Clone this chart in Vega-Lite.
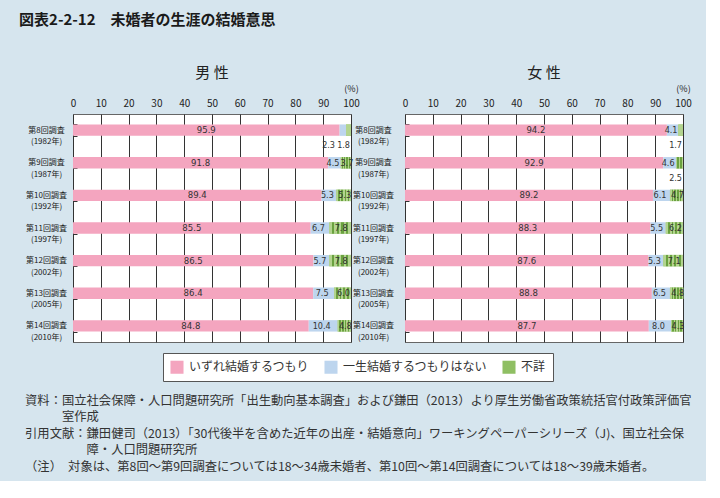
{
  "$schema": "https://vega.github.io/schema/vega-lite/v6.json",
  "background": "#d6e5ee",
  "padding": {"left": 19, "right": 14, "top": 12, "bottom": 8},
  "title": {
    "text": "図表2-2-12　未婚者の生涯の結婚意思",
    "anchor": "start",
    "fontSize": 15,
    "fontWeight": "bold",
    "color": "#1a1a1a",
    "offset": 38,
    "dx": -6
  },
  "data": {
    "values": [
      {"panel": "男性", "survey": "第8回調査|(1982年)", "cat": "いずれ結婚するつもり", "ord": 1, "v": 95.9},
      {"panel": "男性", "survey": "第8回調査|(1982年)", "cat": "一生結婚するつもりはない", "ord": 2, "v": 2.3},
      {"panel": "男性", "survey": "第8回調査|(1982年)", "cat": "不詳", "ord": 3, "v": 1.8},
      {"panel": "男性", "survey": "第9回調査|(1987年)", "cat": "いずれ結婚するつもり", "ord": 1, "v": 91.8},
      {"panel": "男性", "survey": "第9回調査|(1987年)", "cat": "一生結婚するつもりはない", "ord": 2, "v": 4.5},
      {"panel": "男性", "survey": "第9回調査|(1987年)", "cat": "不詳", "ord": 3, "v": 3.7},
      {"panel": "男性", "survey": "第10回調査|(1992年)", "cat": "いずれ結婚するつもり", "ord": 1, "v": 89.4},
      {"panel": "男性", "survey": "第10回調査|(1992年)", "cat": "一生結婚するつもりはない", "ord": 2, "v": 5.3},
      {"panel": "男性", "survey": "第10回調査|(1992年)", "cat": "不詳", "ord": 3, "v": 5.3},
      {"panel": "男性", "survey": "第11回調査|(1997年)", "cat": "いずれ結婚するつもり", "ord": 1, "v": 85.5},
      {"panel": "男性", "survey": "第11回調査|(1997年)", "cat": "一生結婚するつもりはない", "ord": 2, "v": 6.7},
      {"panel": "男性", "survey": "第11回調査|(1997年)", "cat": "不詳", "ord": 3, "v": 7.8},
      {"panel": "男性", "survey": "第12回調査|(2002年)", "cat": "いずれ結婚するつもり", "ord": 1, "v": 86.5},
      {"panel": "男性", "survey": "第12回調査|(2002年)", "cat": "一生結婚するつもりはない", "ord": 2, "v": 5.7},
      {"panel": "男性", "survey": "第12回調査|(2002年)", "cat": "不詳", "ord": 3, "v": 7.8},
      {"panel": "男性", "survey": "第13回調査|(2005年)", "cat": "いずれ結婚するつもり", "ord": 1, "v": 86.4},
      {"panel": "男性", "survey": "第13回調査|(2005年)", "cat": "一生結婚するつもりはない", "ord": 2, "v": 7.5},
      {"panel": "男性", "survey": "第13回調査|(2005年)", "cat": "不詳", "ord": 3, "v": 6.0},
      {"panel": "男性", "survey": "第14回調査|(2010年)", "cat": "いずれ結婚するつもり", "ord": 1, "v": 84.8},
      {"panel": "男性", "survey": "第14回調査|(2010年)", "cat": "一生結婚するつもりはない", "ord": 2, "v": 10.4},
      {"panel": "男性", "survey": "第14回調査|(2010年)", "cat": "不詳", "ord": 3, "v": 4.8},
      {"panel": "女性", "survey": "第8回調査|(1982年)", "cat": "いずれ結婚するつもり", "ord": 1, "v": 94.2},
      {"panel": "女性", "survey": "第8回調査|(1982年)", "cat": "一生結婚するつもりはない", "ord": 2, "v": 4.1},
      {"panel": "女性", "survey": "第8回調査|(1982年)", "cat": "不詳", "ord": 3, "v": 1.7},
      {"panel": "女性", "survey": "第9回調査|(1987年)", "cat": "いずれ結婚するつもり", "ord": 1, "v": 92.9},
      {"panel": "女性", "survey": "第9回調査|(1987年)", "cat": "一生結婚するつもりはない", "ord": 2, "v": 4.6},
      {"panel": "女性", "survey": "第9回調査|(1987年)", "cat": "不詳", "ord": 3, "v": 2.5},
      {"panel": "女性", "survey": "第10回調査|(1992年)", "cat": "いずれ結婚するつもり", "ord": 1, "v": 89.2},
      {"panel": "女性", "survey": "第10回調査|(1992年)", "cat": "一生結婚するつもりはない", "ord": 2, "v": 6.1},
      {"panel": "女性", "survey": "第10回調査|(1992年)", "cat": "不詳", "ord": 3, "v": 4.7},
      {"panel": "女性", "survey": "第11回調査|(1997年)", "cat": "いずれ結婚するつもり", "ord": 1, "v": 88.3},
      {"panel": "女性", "survey": "第11回調査|(1997年)", "cat": "一生結婚するつもりはない", "ord": 2, "v": 5.5},
      {"panel": "女性", "survey": "第11回調査|(1997年)", "cat": "不詳", "ord": 3, "v": 6.2},
      {"panel": "女性", "survey": "第12回調査|(2002年)", "cat": "いずれ結婚するつもり", "ord": 1, "v": 87.6},
      {"panel": "女性", "survey": "第12回調査|(2002年)", "cat": "一生結婚するつもりはない", "ord": 2, "v": 5.3},
      {"panel": "女性", "survey": "第12回調査|(2002年)", "cat": "不詳", "ord": 3, "v": 7.1},
      {"panel": "女性", "survey": "第13回調査|(2005年)", "cat": "いずれ結婚するつもり", "ord": 1, "v": 88.8},
      {"panel": "女性", "survey": "第13回調査|(2005年)", "cat": "一生結婚するつもりはない", "ord": 2, "v": 6.5},
      {"panel": "女性", "survey": "第13回調査|(2005年)", "cat": "不詳", "ord": 3, "v": 4.8},
      {"panel": "女性", "survey": "第14回調査|(2010年)", "cat": "いずれ結婚するつもり", "ord": 1, "v": 87.7},
      {"panel": "女性", "survey": "第14回調査|(2010年)", "cat": "一生結婚するつもりはない", "ord": 2, "v": 8.0},
      {"panel": "女性", "survey": "第14回調査|(2010年)", "cat": "不詳", "ord": 3, "v": 4.3}
    ]
  },
  "resolve": {"legend": {"color": "independent"}},
  "vconcat": [
    {
      "title": {
        "text": [
          "資料：国立社会保障・人口問題研究所「出生動向基本調査」および鎌田（2013）より厚生労働省政策統括官付政策評価官",
          "\u200b　　　室作成",
          "引用文献：鎌田健司（2013）「30代後半を含めた近年の出産・結婚意向」ワーキングペーパーシリーズ（J)、国立社会保",
          "\u200b　　　　　障・人口問題研究所",
          "（注）　対象は、第8回～第9回調査については18～34歳未婚者、第10回～第14回調査については18～39歳未婚者。"
        ],
        "orient": "bottom",
        "anchor": "start",
        "fontSize": 12.3,
        "fontWeight": "normal",
        "lineHeight": 16.5,
        "color": "#333333",
        "offset": 13
      },
      "spacing": -8,
      "hconcat": [
        {
          "width": 278,
          "height": 228,
          "title": {"text": "男 性", "fontSize": 15, "fontWeight": "normal", "color": "#222222", "offset": 3},
          "transform": [
            {"filter": "datum.panel === '男性'"},
            {"stack": "v", "groupby": ["survey"], "sort": [{"field": "ord"}], "as": ["v0", "v1"]},
            {"calculate": "(datum.v0 + datum.v1) / 2", "as": "mid"}
          ],
          "encoding": {
            "y": {
              "field": "survey", "type": "nominal", "sort": null,
              "scale": {"paddingInner": 0.65, "paddingOuter": 0.32},
              "axis": {
                "title": null, "domain": false, "ticks": true, "tickBand": "extent", "tickSize": -4, "tickColor": "#333333",
                "labelAlign": "center", "labelPadding": 31, "labelFontSize": 8, "labelLineHeight": 11.5,
                "labelColor": "#1a1a1a", "labelExpr": "split(datum.label, '|')"
              }
            }
          },
          "layer": [
            {
              "mark": {"type": "bar"},
              "encoding": {
                "x": {
                  "field": "v0", "type": "quantitative", "scale": {"domain": [0, 100]},
                  "axis": {"orient": "top", "values": [0, 10, 20, 30, 40, 50, 60, 70, 80, 90, 100], "tickCount": 11, "labelOverlap": false, "labelFlush": false, "grid": true, "gridColor": "#333333", "gridOpacity": 1, "domain": false, "ticks": false, "labelFontSize": 10, "labelColor": "#222222", "labelPadding": 6, "title": "(%)", "titleAnchor": "end", "titleAlign": "center", "titleFontSize": 9, "titleFontWeight": "normal", "titleColor": "#222222", "titlePadding": 5}
                },
                "x2": {"field": "v1"},
                "color": {
                  "field": "cat", "type": "nominal",
                  "scale": {
                    "domain": ["いずれ結婚するつもり", "一生結婚するつもりはない", "不詳"],
                    "range": ["#f4a5bf", "#bdd5ee", "#8fbf63"]
                  },
                  "legend": {
                    "title": null, "orient": "bottom", "direction": "horizontal", "symbolType": "square",
                    "symbolSize": 170, "symbolStrokeWidth": 0, "labelFontSize": 12, "labelColor": "#333333",
                    "fillColor": "#ffffff", "strokeColor": "#555555", "padding": 7, "columnPadding": 14,
                    "labelOffset": 5, "offset": 10, "labelLimit": 300,
                    "encode": {
                      "symbols": {
                        "update": {
                          "fill": [
                            {"test": "datum.label === '不詳'", "value": {"gradient": "linear", "x1": 0, "y1": 0, "x2": 1, "y2": 0, "stops": [
                              {"offset": 0, "color": "#b3d48f"}, {"offset": 0.1, "color": "#b3d48f"},
                              {"offset": 0.1, "color": "#5f9a35"}, {"offset": 0.22, "color": "#5f9a35"},
                              {"offset": 0.22, "color": "#b3d48f"}, {"offset": 0.34, "color": "#b3d48f"},
                              {"offset": 0.34, "color": "#5f9a35"}, {"offset": 0.46, "color": "#5f9a35"},
                              {"offset": 0.46, "color": "#b3d48f"}, {"offset": 0.56, "color": "#b3d48f"},
                              {"offset": 0.56, "color": "#5f9a35"}, {"offset": 0.68, "color": "#5f9a35"},
                              {"offset": 0.68, "color": "#b3d48f"}, {"offset": 0.78, "color": "#b3d48f"},
                              {"offset": 0.78, "color": "#5f9a35"}, {"offset": 0.9, "color": "#5f9a35"},
                              {"offset": 0.9, "color": "#b3d48f"}, {"offset": 1, "color": "#b3d48f"}
                            ]}},
                            {"scale": "color", "field": "value"}
                          ]
                        }
                      }
                    }
                  }
                }
              }
            },
            {
              "transform": [{"filter": "datum.ord === 3"}],
              "mark": {"type": "bar", "fill": {"gradient": "linear", "x1": 0, "y1": 0, "x2": 1, "y2": 0, "stops": [
                {"offset": 0, "color": "#b3d48f"}, {"offset": 0.12, "color": "#b3d48f"},
                {"offset": 0.12, "color": "#6aa23f"}, {"offset": 0.22, "color": "#6aa23f"},
                {"offset": 0.22, "color": "#b3d48f"}, {"offset": 0.34, "color": "#b3d48f"},
                {"offset": 0.34, "color": "#6aa23f"}, {"offset": 0.44, "color": "#6aa23f"},
                {"offset": 0.44, "color": "#b3d48f"}, {"offset": 0.56, "color": "#b3d48f"},
                {"offset": 0.56, "color": "#6aa23f"}, {"offset": 0.66, "color": "#6aa23f"},
                {"offset": 0.66, "color": "#b3d48f"}, {"offset": 0.78, "color": "#b3d48f"},
                {"offset": 0.78, "color": "#6aa23f"}, {"offset": 0.88, "color": "#6aa23f"},
                {"offset": 0.88, "color": "#b3d48f"}, {"offset": 1, "color": "#b3d48f"}
              ]}},
              "encoding": {
                "x": {"field": "v0", "type": "quantitative", "axis": {"orient": "top", "values": [0, 10, 20, 30, 40, 50, 60, 70, 80, 90, 100], "tickCount": 11, "labelOverlap": false, "labelFlush": false, "grid": true, "gridColor": "#333333", "gridOpacity": 1, "domain": false, "ticks": false, "labelFontSize": 10, "labelColor": "#222222", "labelPadding": 6, "title": "(%)", "titleAnchor": "end", "titleAlign": "center", "titleFontSize": 9, "titleFontWeight": "normal", "titleColor": "#222222", "titlePadding": 5}},
                "x2": {"field": "v1"}
              }
            },
            {
              "transform": [{"filter": "datum.ord === 1"}],
              "mark": {"type": "text", "fontSize": 9.5, "font": "Liberation Sans Narrow, DejaVu Sans Condensed, Roboto", "color": "#333333"},
              "encoding": {
                "x": {"field": "mid", "type": "quantitative", "axis": {"orient": "top", "values": [0, 10, 20, 30, 40, 50, 60, 70, 80, 90, 100], "tickCount": 11, "labelOverlap": false, "labelFlush": false, "grid": true, "gridColor": "#333333", "gridOpacity": 1, "domain": false, "ticks": false, "labelFontSize": 10, "labelColor": "#222222", "labelPadding": 6, "title": "(%)", "titleAnchor": "end", "titleAlign": "center", "titleFontSize": 9, "titleFontWeight": "normal", "titleColor": "#222222", "titlePadding": 5}},
                "text": {"field": "v", "type": "quantitative", "format": ".1f"}
              }
            },
            {
              "transform": [{"filter": "datum.v >= 3 && datum.ord === 2"}],
              "mark": {"type": "text", "fontSize": 9, "font": "Liberation Sans Narrow, DejaVu Sans Condensed, Roboto", "color": "#333333", "dx": -1.5},
              "encoding": {
                "x": {"field": "mid", "type": "quantitative", "axis": {"orient": "top", "values": [0, 10, 20, 30, 40, 50, 60, 70, 80, 90, 100], "tickCount": 11, "labelOverlap": false, "labelFlush": false, "grid": true, "gridColor": "#333333", "gridOpacity": 1, "domain": false, "ticks": false, "labelFontSize": 10, "labelColor": "#222222", "labelPadding": 6, "title": "(%)", "titleAnchor": "end", "titleAlign": "center", "titleFontSize": 9, "titleFontWeight": "normal", "titleColor": "#222222", "titlePadding": 5}},
                "text": {"field": "v", "type": "quantitative", "format": ".1f"}
              }
            },
            {
              "transform": [{"filter": "datum.v >= 3 && datum.ord === 3"}],
              "mark": {"type": "text", "fontSize": 9, "font": "Liberation Sans Narrow, DejaVu Sans Condensed, Roboto", "color": "#333333", "dx": 1},
              "encoding": {
                "x": {"field": "mid", "type": "quantitative", "axis": {"orient": "top", "values": [0, 10, 20, 30, 40, 50, 60, 70, 80, 90, 100], "tickCount": 11, "labelOverlap": false, "labelFlush": false, "grid": true, "gridColor": "#333333", "gridOpacity": 1, "domain": false, "ticks": false, "labelFontSize": 10, "labelColor": "#222222", "labelPadding": 6, "title": "(%)", "titleAnchor": "end", "titleAlign": "center", "titleFontSize": 9, "titleFontWeight": "normal", "titleColor": "#222222", "titlePadding": 5}},
                "text": {"field": "v", "type": "quantitative", "format": ".1f"}
              }
            },
            {
              "transform": [{"filter": "datum.v < 3 && datum.ord === 3"}],
              "mark": {"type": "text", "fontSize": 9, "font": "Liberation Sans Narrow, DejaVu Sans Condensed, Roboto", "color": "#333333", "align": "right", "dx": -1, "dy": 15},
              "encoding": {
                "x": {"datum": 100, "type": "quantitative", "axis": {"orient": "top", "values": [0, 10, 20, 30, 40, 50, 60, 70, 80, 90, 100], "tickCount": 11, "labelOverlap": false, "labelFlush": false, "grid": true, "gridColor": "#333333", "gridOpacity": 1, "domain": false, "ticks": false, "labelFontSize": 10, "labelColor": "#222222", "labelPadding": 6, "title": "(%)", "titleAnchor": "end", "titleAlign": "center", "titleFontSize": 9, "titleFontWeight": "normal", "titleColor": "#222222", "titlePadding": 5}},
                "text": {"field": "v", "type": "quantitative", "format": ".1f"}
              }
            },
            {
              "transform": [{"filter": "datum.v < 3 && datum.ord === 2"}],
              "mark": {"type": "text", "fontSize": 9, "font": "Liberation Sans Narrow, DejaVu Sans Condensed, Roboto", "color": "#333333", "align": "right", "dx": -16, "dy": 15},
              "encoding": {
                "x": {"datum": 100, "type": "quantitative", "axis": {"orient": "top", "values": [0, 10, 20, 30, 40, 50, 60, 70, 80, 90, 100], "tickCount": 11, "labelOverlap": false, "labelFlush": false, "grid": true, "gridColor": "#333333", "gridOpacity": 1, "domain": false, "ticks": false, "labelFontSize": 10, "labelColor": "#222222", "labelPadding": 6, "title": "(%)", "titleAnchor": "end", "titleAlign": "center", "titleFontSize": 9, "titleFontWeight": "normal", "titleColor": "#222222", "titlePadding": 5}},
                "text": {"field": "v", "type": "quantitative", "format": ".1f"}
              }
            }
          ]
        },
        {
          "width": 278,
          "height": 228,
          "title": {"text": "女 性", "fontSize": 15, "fontWeight": "normal", "color": "#222222", "offset": 3},
          "transform": [
            {"filter": "datum.panel === '女性'"},
            {"stack": "v", "groupby": ["survey"], "sort": [{"field": "ord"}], "as": ["v0", "v1"]},
            {"calculate": "(datum.v0 + datum.v1) / 2", "as": "mid"}
          ],
          "encoding": {
            "y": {
              "field": "survey", "type": "nominal", "sort": null,
              "scale": {"paddingInner": 0.65, "paddingOuter": 0.32},
              "axis": {
                "title": null, "domain": false, "ticks": true, "tickBand": "extent", "tickSize": -4, "tickColor": "#333333",
                "labelAlign": "center", "labelPadding": 36, "labelFontSize": 8, "labelLineHeight": 11.5,
                "labelColor": "#1a1a1a", "labelExpr": "split(datum.label, '|')"
              }
            }
          },
          "layer": [
            {
              "mark": {"type": "bar"},
              "encoding": {
                "x": {
                  "field": "v0", "type": "quantitative", "scale": {"domain": [0, 100]},
                  "axis": {"orient": "top", "values": [0, 10, 20, 30, 40, 50, 60, 70, 80, 90, 100], "tickCount": 11, "labelOverlap": false, "labelFlush": false, "grid": true, "gridColor": "#333333", "gridOpacity": 1, "domain": false, "ticks": false, "labelFontSize": 10, "labelColor": "#222222", "labelPadding": 6, "title": "(%)", "titleAnchor": "end", "titleAlign": "center", "titleFontSize": 9, "titleFontWeight": "normal", "titleColor": "#222222", "titlePadding": 5}
                },
                "x2": {"field": "v1"},
                "color": {"field": "cat", "type": "nominal"}
              }
            },
            {
              "transform": [{"filter": "datum.ord === 3"}],
              "mark": {"type": "bar", "fill": {"gradient": "linear", "x1": 0, "y1": 0, "x2": 1, "y2": 0, "stops": [
                {"offset": 0, "color": "#b3d48f"}, {"offset": 0.12, "color": "#b3d48f"},
                {"offset": 0.12, "color": "#6aa23f"}, {"offset": 0.22, "color": "#6aa23f"},
                {"offset": 0.22, "color": "#b3d48f"}, {"offset": 0.34, "color": "#b3d48f"},
                {"offset": 0.34, "color": "#6aa23f"}, {"offset": 0.44, "color": "#6aa23f"},
                {"offset": 0.44, "color": "#b3d48f"}, {"offset": 0.56, "color": "#b3d48f"},
                {"offset": 0.56, "color": "#6aa23f"}, {"offset": 0.66, "color": "#6aa23f"},
                {"offset": 0.66, "color": "#b3d48f"}, {"offset": 0.78, "color": "#b3d48f"},
                {"offset": 0.78, "color": "#6aa23f"}, {"offset": 0.88, "color": "#6aa23f"},
                {"offset": 0.88, "color": "#b3d48f"}, {"offset": 1, "color": "#b3d48f"}
              ]}},
              "encoding": {
                "x": {"field": "v0", "type": "quantitative", "axis": {"orient": "top", "values": [0, 10, 20, 30, 40, 50, 60, 70, 80, 90, 100], "tickCount": 11, "labelOverlap": false, "labelFlush": false, "grid": true, "gridColor": "#333333", "gridOpacity": 1, "domain": false, "ticks": false, "labelFontSize": 10, "labelColor": "#222222", "labelPadding": 6, "title": "(%)", "titleAnchor": "end", "titleAlign": "center", "titleFontSize": 9, "titleFontWeight": "normal", "titleColor": "#222222", "titlePadding": 5}},
                "x2": {"field": "v1"}
              }
            },
            {
              "transform": [{"filter": "datum.ord === 1"}],
              "mark": {"type": "text", "fontSize": 9.5, "font": "Liberation Sans Narrow, DejaVu Sans Condensed, Roboto", "color": "#333333"},
              "encoding": {
                "x": {"field": "mid", "type": "quantitative", "axis": {"orient": "top", "values": [0, 10, 20, 30, 40, 50, 60, 70, 80, 90, 100], "tickCount": 11, "labelOverlap": false, "labelFlush": false, "grid": true, "gridColor": "#333333", "gridOpacity": 1, "domain": false, "ticks": false, "labelFontSize": 10, "labelColor": "#222222", "labelPadding": 6, "title": "(%)", "titleAnchor": "end", "titleAlign": "center", "titleFontSize": 9, "titleFontWeight": "normal", "titleColor": "#222222", "titlePadding": 5}},
                "text": {"field": "v", "type": "quantitative", "format": ".1f"}
              }
            },
            {
              "transform": [{"filter": "datum.v >= 3 && datum.ord === 2"}],
              "mark": {"type": "text", "fontSize": 9, "font": "Liberation Sans Narrow, DejaVu Sans Condensed, Roboto", "color": "#333333", "dx": -1.5},
              "encoding": {
                "x": {"field": "mid", "type": "quantitative", "axis": {"orient": "top", "values": [0, 10, 20, 30, 40, 50, 60, 70, 80, 90, 100], "tickCount": 11, "labelOverlap": false, "labelFlush": false, "grid": true, "gridColor": "#333333", "gridOpacity": 1, "domain": false, "ticks": false, "labelFontSize": 10, "labelColor": "#222222", "labelPadding": 6, "title": "(%)", "titleAnchor": "end", "titleAlign": "center", "titleFontSize": 9, "titleFontWeight": "normal", "titleColor": "#222222", "titlePadding": 5}},
                "text": {"field": "v", "type": "quantitative", "format": ".1f"}
              }
            },
            {
              "transform": [{"filter": "datum.v >= 3 && datum.ord === 3"}],
              "mark": {"type": "text", "fontSize": 9, "font": "Liberation Sans Narrow, DejaVu Sans Condensed, Roboto", "color": "#333333", "dx": 1},
              "encoding": {
                "x": {"field": "mid", "type": "quantitative", "axis": {"orient": "top", "values": [0, 10, 20, 30, 40, 50, 60, 70, 80, 90, 100], "tickCount": 11, "labelOverlap": false, "labelFlush": false, "grid": true, "gridColor": "#333333", "gridOpacity": 1, "domain": false, "ticks": false, "labelFontSize": 10, "labelColor": "#222222", "labelPadding": 6, "title": "(%)", "titleAnchor": "end", "titleAlign": "center", "titleFontSize": 9, "titleFontWeight": "normal", "titleColor": "#222222", "titlePadding": 5}},
                "text": {"field": "v", "type": "quantitative", "format": ".1f"}
              }
            },
            {
              "transform": [{"filter": "datum.v < 3 && datum.ord === 3"}],
              "mark": {"type": "text", "fontSize": 9, "font": "Liberation Sans Narrow, DejaVu Sans Condensed, Roboto", "color": "#333333", "align": "right", "dx": -1, "dy": 15},
              "encoding": {
                "x": {"datum": 100, "type": "quantitative", "axis": {"orient": "top", "values": [0, 10, 20, 30, 40, 50, 60, 70, 80, 90, 100], "tickCount": 11, "labelOverlap": false, "labelFlush": false, "grid": true, "gridColor": "#333333", "gridOpacity": 1, "domain": false, "ticks": false, "labelFontSize": 10, "labelColor": "#222222", "labelPadding": 6, "title": "(%)", "titleAnchor": "end", "titleAlign": "center", "titleFontSize": 9, "titleFontWeight": "normal", "titleColor": "#222222", "titlePadding": 5}},
                "text": {"field": "v", "type": "quantitative", "format": ".1f"}
              }
            },
            {
              "transform": [{"filter": "datum.v < 3 && datum.ord === 2"}],
              "mark": {"type": "text", "fontSize": 9, "font": "Liberation Sans Narrow, DejaVu Sans Condensed, Roboto", "color": "#333333", "align": "right", "dx": -16, "dy": 15},
              "encoding": {
                "x": {"datum": 100, "type": "quantitative", "axis": {"orient": "top", "values": [0, 10, 20, 30, 40, 50, 60, 70, 80, 90, 100], "tickCount": 11, "labelOverlap": false, "labelFlush": false, "grid": true, "gridColor": "#333333", "gridOpacity": 1, "domain": false, "ticks": false, "labelFontSize": 10, "labelColor": "#222222", "labelPadding": 6, "title": "(%)", "titleAnchor": "end", "titleAlign": "center", "titleFontSize": 9, "titleFontWeight": "normal", "titleColor": "#222222", "titlePadding": 5}},
                "text": {"field": "v", "type": "quantitative", "format": ".1f"}
              }
            }
          ]
        }
      ]
    }
  ],
  "config": {
    "font": "Noto Sans CJK JP",
    "view": {"fill": "#ffffff", "stroke": "#666666", "strokeWidth": 1},
    "axis": {"labelOverlap": false},
    "legend": {"layout": {"bottom": {"anchor": "middle"}}}
  }
}
